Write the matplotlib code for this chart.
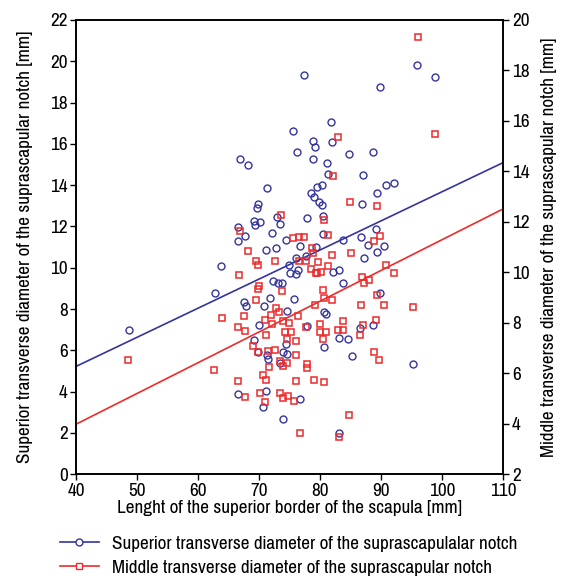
import matplotlib
matplotlib.use('Agg')
import matplotlib.pyplot as plt
from matplotlib.lines import Line2D
import numpy as np

plt.rcParams['font.family'] = ['Pragati Narrow', 'DejaVu Sans']

# superior transverse diameter (left axis) vs scapula length
sup_x = [77.3, 95.9, 98.8, 89.8, 81.75, 75.6, 78.8, 81.9, 79.1, 76.2, 84.75, 88.7, 78.8, 66.8,
         81.15, 68.2, 81.3, 87.0, 92.0, 90.8, 80.2, 71.2, 79.5, 78.4, 89.3, 78.9, 79.8, 80.3,
         86.9, 69.8, 69.7, 80.4, 77.9, 72.9, 73.4, 69.2, 70.1, 69.3, 66.5, 67.7, 72.1, 74.4,
         76.7, 80.5, 83.8, 86.7, 89.2, 87.85, 90.5, 89.25, 79.3, 71.1, 72.8, 76.1, 77.6, 74.8,
         87.1, 75.1, 76.0, 76.3, 82.0, 83.1, 72.2, 73.1, 73.7, 83.7, 89.8, 71.8, 75.75, 67.5,
         67.8, 70.8, 74.55, 80.65, 80.9, 70.0, 77.9, 86.5, 88.7, 69.1, 83.0, 84.5, 80.65, 69.85,
         71.3, 71.4, 73.95, 74.6, 74.45, 73.45, 85.15, 95.1, 66.6, 71.05, 76.6, 70.7, 73.95,
         83.1, 48.6, 62.8, 63.8, 66.5]
sup_y = [19.32, 19.84, 19.26, 18.73, 17.06, 16.64, 16.13, 16.08, 15.84, 15.60, 15.50, 15.61, 15.28, 15.25,
         15.06, 14.99, 14.54, 14.47, 14.09, 14.00, 14.00, 13.87, 13.92, 13.63, 13.60, 13.42, 13.16, 13.02,
         13.10, 13.10, 12.88, 12.52, 12.42, 12.48, 12.12, 12.27, 12.21, 12.06, 11.30, 11.53, 11.69, 11.34,
         11.06, 11.62, 11.34, 11.47, 11.90, 11.09, 11.04, 10.74, 11.0, 10.84, 10.94, 10.45, 10.58, 10.12,
         10.45, 9.76, 9.69, 9.88, 9.80, 9.88, 9.38, 9.28, 9.25, 9.27, 8.76, 8.53, 8.47, 8.34,
         8.17, 8.16, 7.91, 7.85, 7.76, 7.24, 7.19, 7.08, 7.23, 6.50, 6.60, 6.57, 6.14, 5.93,
         5.79, 5.57, 5.94, 5.81, 6.29, 5.40, 5.73, 5.34, 3.89, 4.02, 3.65, 3.25, 2.65,
         1.98, 7.0, 8.76, 10.10, 11.97]

# middle transverse diameter (right axis) vs scapula length
mid_x = [96.0, 98.8, 82.95, 82.0, 84.9, 89.3, 73.5, 66.9, 75.6, 76.5, 77.4, 78.7, 78.85, 68.2,
         69.4, 69.75, 72.6, 76.5, 77.7, 78.4, 79.25, 66.7, 70.0, 69.75, 73.7, 69.4, 72.7, 73.3,
         79.1, 67.55, 71.9, 76.3, 80.65, 81.3, 85.1, 81.9, 88.85, 89.85, 79.55, 79.4, 80.1, 81.2,
         90.7, 92.0, 86.9, 87.1, 87.95, 80.4, 80.65, 81.95, 89.25, 86.6, 90.5, 71.0, 72.1, 73.95,
         74.8, 77.6, 66.6, 67.6, 71.15, 74.2, 75.2, 74.55, 76.0, 69.0, 69.85, 71.4, 72.6, 76.0,
         73.45, 73.9, 74.55, 77.9, 77.9, 71.6, 70.7, 71.15, 66.6, 76.0, 78.9, 67.7, 70.1, 73.45,
         73.95, 74.65, 75.75, 71.0, 76.6, 83.8, 87.0, 89.1, 79.9, 80.9, 79.9, 82.85, 83.8, 86.55,
         80.4, 88.85, 89.65, 80.65, 84.65, 83.1, 95.1, 48.5, 63.9, 62.65]
mid_y = [19.34, 15.48, 15.38, 13.83, 12.79, 12.61, 12.27, 11.63, 11.37, 11.40, 11.40, 10.97, 10.77, 10.83,
         10.44, 10.31, 10.44, 10.44, 10.44, 10.13, 9.96, 9.91, 9.44, 9.34, 9.27, 8.89, 8.59, 8.43,
         8.72, 8.25, 8.32, 8.27, 12.09, 11.47, 10.77, 10.70, 11.26, 11.43, 10.41, 9.98, 10.0, 10.24,
         10.28, 9.99, 9.80, 9.58, 9.68, 9.30, 9.0, 8.89, 9.11, 8.72, 8.72, 8.11, 7.95, 8.08,
         7.98, 7.83, 7.85, 7.66, 7.53, 7.63, 7.63, 7.37, 7.29, 7.10, 6.84, 6.89, 6.92, 6.72,
         6.47, 6.30, 6.39, 6.37, 6.21, 6.23, 5.94, 5.75, 5.70, 5.70, 5.74, 5.07, 5.21, 5.23,
         5.02, 5.08, 4.91, 4.86, 3.63, 8.08, 7.92, 8.13, 7.95, 7.63, 7.63, 7.70, 7.70, 7.52,
         7.34, 6.84, 6.54, 5.65, 4.34, 3.48, 8.63, 6.52, 8.19, 6.13]

# fitted lines (ends at x = 40 and 110)
fit_x = [40, 110]
sup_fit = [5.22, 15.1]
mid_fit = [3.98, 12.52]

blue = '#34349c'
red = '#ee2a2a'

fig = plt.figure(figsize=(5.61, 5.79), dpi=100)
ax = fig.add_axes([0.1355, 0.181, 0.762, 0.7845])
ax2 = ax.twinx()

ax.plot(sup_x, sup_y, 'o', ms=5, mfc='none', mec=blue, mew=1.0, zorder=3)
ax.plot(fit_x, sup_fit, '-', color=blue, lw=1.2)
ax2.plot(mid_x, mid_y, 's', ms=5, mfc='none', mec=red, mew=1.1, zorder=3)
ax2.plot(fit_x, mid_fit, '-', color=red, lw=1.2)

ax.set_xlim(40, 110)
ax.set_ylim(0, 22)
ax2.set_ylim(2, 20)
ax.set_xticks(np.arange(40, 111, 10))
ax.set_yticks(np.arange(0, 23, 2))
ax2.set_yticks(np.arange(2, 21, 2))

for a in (ax, ax2):
    a.tick_params(labelsize=15, length=4, width=1, direction='out', pad=2)
    for s in a.spines.values():
        s.set_linewidth(1.2)

ax.set_xlabel('Lenght of the superior border of the scapula [mm]', fontsize=15, labelpad=1)
ax.set_ylabel('Superior transverse diameter of the suprascapular notch [mm]', fontsize=15, labelpad=12)
ax2.set_ylabel('Middle transverse diameter of the suprascapular notch [mm]', fontsize=15,
               rotation=90, labelpad=8)

handles = [
    Line2D([], [], color=blue, lw=1.2, marker='o', ms=5, mfc='white', mec=blue),
    Line2D([], [], color=red, lw=1.2, marker='s', ms=5, mfc='white', mec=red),
]
labels = ['Superior transverse diameter of the suprascapulalar notch',
          'Middle transverse diameter of the suprascapular notch']
fig.legend(handles, labels, loc='upper left', bbox_to_anchor=(0.107, 0.077),
           frameon=False, fontsize=15, handlelength=1.85, handletextpad=0.65,
           labelspacing=0.3, borderpad=0, borderaxespad=0)

fig.savefig('out.png', dpi=100)
